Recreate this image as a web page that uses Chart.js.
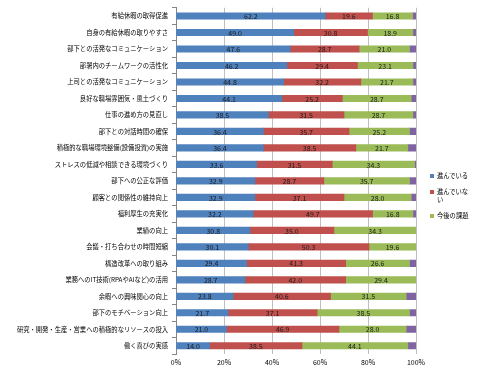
<!DOCTYPE html>
<html>
<head>
<meta charset="utf-8">
<script src="https://cdn.jsdelivr.net/npm/chart.js@4.4.1/dist/chart.umd.min.js"></script>
<style>
  html, body { margin: 0; padding: 0; background: #fff; }
  #wrap { position: relative; width: 500px; height: 375px; }
  #legend { position: absolute; left: 430px; top: 172px; width: 41px;
    font-family: "Noto Sans CJK JP", sans-serif; font-size: 6.3px; color: #000; line-height: 7.5px; }
  .li { position: relative; padding-left: 7px; margin-bottom: 8.5px; }
  .li span.sw { position: absolute; left: 0; top: 2px; width: 4px; height: 4px; }
</style>
</head>
<body>
<div id="wrap">
  <canvas id="c" width="500" height="375"></canvas>
  <div id="legend"></div>
</div>
<script>
const categories = [
  "有給休暇の取得促進",
  "自身の有給休暇の取りやすさ",
  "部下との活発なコミュニケーション",
  "部署内のチームワークの活性化",
  "上司との活発なコミュニケーション",
  "良好な職場雰囲気・風土づくり",
  "仕事の進め方の見直し",
  "部下との対話時間の確保",
  "積極的な職場環境整備(設備投資)の実施",
  "ストレスの低減や相談できる環境づくり",
  "部下への公正な評価",
  "顧客との関係性の維持向上",
  "福利厚生の充実化",
  "業績の向上",
  "会議・打ち合わせの時間短縮",
  "構造改革への取り組み",
  "業務へのIT技術(RPAやAIなど)の活用",
  "余暇への興味関心の向上",
  "部下のモチベーション向上",
  "研究・開発・生産・営業への積極的なリソースの投入",
  "働く喜びの実感"
];
const seriesNames = ["進んでいる", "進んでいない", "今後の課題", "無回答"];
const progressing    = [62.2, 49.0, 47.6, 46.2, 44.8, 44.1, 38.5, 36.4, 36.4, 33.6, 32.9, 32.9, 32.2, 30.8, 30.1, 29.4, 28.7, 23.8, 21.7, 21.0, 14.0];
const notProgressing = [19.6, 30.8, 28.7, 29.4, 32.2, 25.2, 31.5, 35.7, 38.5, 31.5, 28.7, 37.1, 49.7, 35.0, 50.3, 41.3, 42.0, 40.6, 37.1, 46.9, 38.5];
const futureIssue    = [16.8, 18.9, 21.0, 23.1, 21.7, 28.7, 28.7, 25.2, 21.7, 34.3, 35.7, 28.0, 16.8, 34.3, 19.6, 26.6, 29.4, 31.5, 38.5, 28.0, 44.1];
const noAnswer       = [1.4, 1.3, 2.7, 1.3, 1.3, 2.0, 1.3, 2.7, 3.4, 0.6, 2.7, 2.0, 1.3, 0.0, 0.0, 2.7, 0.0, 4.1, 2.7, 4.1, 3.4];
const xTicks = [0, 20, 40, 60, 80, 100];

const colors = ["#4F81BD", "#C0504D", "#9BBB59", "#8064A2"];
const FONT = '"Noto Sans CJK JP", sans-serif';

const labelPlugin = {
  id: 'barLabels',
  afterDatasetsDraw(chart) {
    const ctx = chart.ctx;
    ctx.save();
    ctx.font = '7px ' + FONT;
    ctx.fillStyle = '#1a1a1a';
    ctx.textAlign = 'center';
    ctx.textBaseline = 'middle';
    for (let d = 0; d < 3; d++) {
      const meta = chart.getDatasetMeta(d);
      const ds = chart.data.datasets[d];
      meta.data.forEach((el, i) => {
        const p = el.getCenterPoint();
        ctx.fillText(ds.data[i].toFixed(1), p.x, p.y + 0.5);
      });
    }
    ctx.restore();
  }
};

const chart = new Chart(document.getElementById('c'), {
  type: 'bar',
  data: {
    labels: categories,
    datasets: [progressing, notProgressing, futureIssue, noAnswer].map((arr, i) => ({
      label: seriesNames[i],
      data: arr,
      backgroundColor: colors[i],
      borderWidth: 0,
      barThickness: 6.5
    }))
  },
  options: {
    indexAxis: 'y',
    responsive: false,
    animation: false,
    devicePixelRatio: 1,
    layout: { padding: { top: 7.5, right: 84, bottom: 0, left: 0 } },
    plugins: { legend: { display: false }, tooltip: { enabled: false } },
    scales: {
      x: {
        stacked: true,
        min: 0, max: 100,
        afterBuildTicks(scale) { scale.ticks = xTicks.map(v => ({ value: v })); },
        ticks: {
          callback: v => v + '%',
          font: { family: FONT, size: 7 },
          color: '#000',
          padding: 4
        },
        grid: { color: '#BFBFBF', lineWidth: 1, drawTicks: false },
        border: { display: false },
        afterFit(scale) { scale.height = 21; }
      },
      y: {
        stacked: true,
        ticks: {
          font: { family: FONT, size: 6.3 },
          color: '#000',
          padding: 4,
          autoSkip: false
        },
        grid: { display: true, drawOnChartArea: false, drawTicks: true, tickLength: 4, color: '#868686', offset: true },
        border: { display: true, color: '#868686', width: 1 },
        afterFit(scale) { scale.width = 176; }
      }
    }
  },
  plugins: [labelPlugin]
});

const leg = document.getElementById('legend');
for (let i = 0; i < 3; i++) {
  const div = document.createElement('div');
  div.className = 'li';
  const sw = document.createElement('span');
  sw.className = 'sw';
  sw.style.background = colors[i];
  div.appendChild(sw);
  div.appendChild(document.createTextNode(seriesNames[i]));
  leg.appendChild(div);
}
</script>
</body>
</html>
